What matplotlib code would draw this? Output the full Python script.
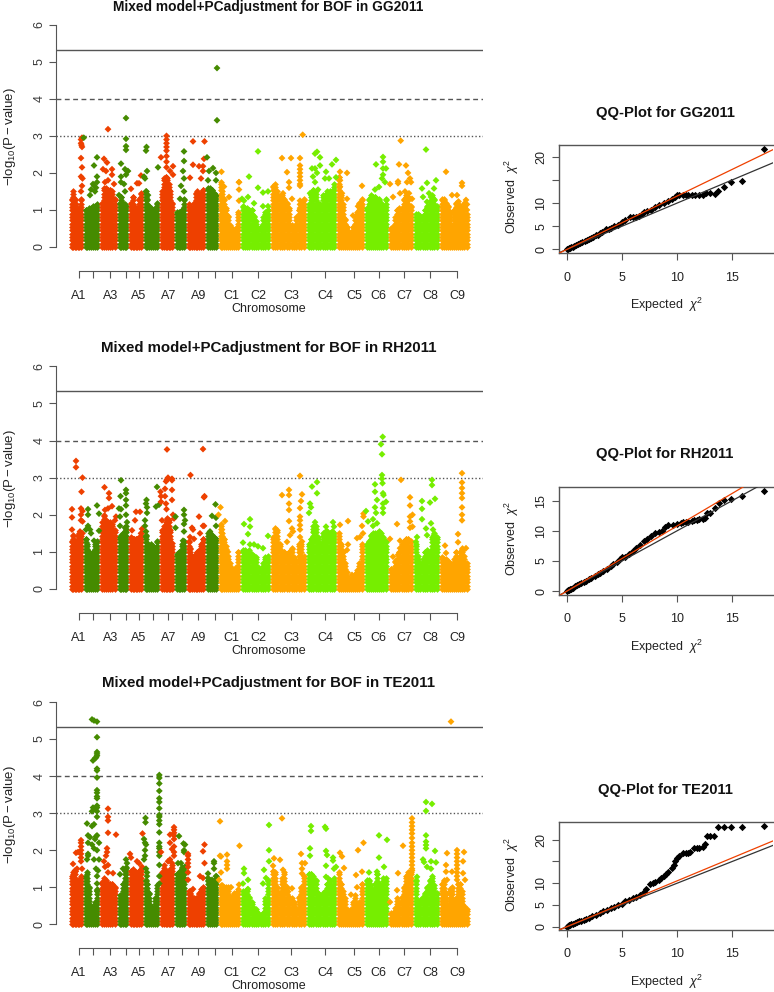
import numpy as np
import matplotlib
matplotlib.use("Agg")
import matplotlib.pyplot as plt

W, H = 774, 992
plt.rcParams['font.family'] = ['Liberation Sans', 'DejaVu Sans']
plt.rcParams['mathtext.fontset'] = 'custom'
plt.rcParams['mathtext.rm'] = 'Liberation Sans'
plt.rcParams['mathtext.it'] = 'Liberation Sans:italic'
plt.rcParams['mathtext.bf'] = 'Liberation Sans:bold'

chrom_names = ['A1', '', 'A3', '', 'A5', '', 'A7', '', 'A9', '', 'C1', 'C2', 'C3', 'C4', 'C5', 'C6', 'C7', 'C8', 'C9']
chrom_ticks = [78.5, 93.3, 110.3, 125.7, 138.7, 153.3, 168.3, 182, 198.3, 214.7, 231.7, 258, 291.3, 325.3, 354, 378.7, 404, 430.3, 457.3]
chrom_edges = [69, 83, 99.5, 117, 128.7, 143, 159.8, 174.5, 186, 205, 218, 240, 270, 306, 336.7, 364, 388, 413, 439, 469]
chrom_colors = ['#EE4000', '#458B00'] * 5 + ['#FFA500', '#76EE00'] * 4 + ['#FFA500']

gg_heights = [
    [1.3, 1.5, 1.3, 1.15, 1.0, 1.05, 1.3],
    [1.0, 0.95, 1.05, 1.05, 1.1, 1.1, 1.15],
    [1.2, 1.6, 1.6, 1.55, 1.55, 1.5, 1.3],
    [1.2, 1.35, 1.2, 1.15, 1.1],
    [1.2, 1.35, 1.1, 0.95, 1.05, 1.3, 1.45],
    [1.5, 1.3, 1.1, 1.05, 1.0, 1.05, 1.2],
    [1.5, 1.85, 1.9, 1.85, 1.7, 1.5, 1.2],
    [0.95, 0.95, 0.9, 1.0, 1.3],
    [1.15, 1.1, 1.0, 1.2, 1.45, 1.5, 1.4, 1.45, 1.55],
    [1.6, 1.6, 1.55, 1.45, 1.4],
    [1.75, 1.5, 1.3, 1.05, 0.85, 0.6, 0.5, 0.4, 0.5, 0.95],
    [1.1, 1.05, 1.05, 1.0, 1.0, 0.85, 0.7, 0.5, 0.55, 0.8, 0.95, 1.0],
    [1.65, 1.7, 1.5, 1.35, 1.4, 1.3, 1.2, 1.05, 0.6, 0.55, 0.8, 1.0, 1.2, 1.3],
    [1.15, 1.4, 1.55, 1.5, 1.2, 1.15, 1.4, 1.4, 1.5, 1.5, 1.5, 1.7],
    [1.9, 1.4, 1.15, 0.75, 0.55, 0.4, 0.35, 0.55, 0.8, 0.95, 1.2, 1.3],
    [1.05, 1.3, 1.4, 1.35, 1.35, 1.3, 1.3, 1.2, 1.1, 1.3],
    [0.5, 0.55, 0.8, 1.0, 1.05, 1.05, 1.3, 1.4, 1.35, 1.1],
    [0.9, 0.9, 0.85, 0.85, 1.0, 1.1, 1.25, 1.4, 1.3, 1.1],
    [1.3, 1.3, 1.2, 1.1, 0.95, 0.6, 1.0, 1.2, 1.25, 1.1, 1.0, 1.2, 0.9],
]
gg_peaks = [
    (81, 2.9), (82, 2.95), (83.8, 2.95), (81, 2.8), (81.5, 2.75), (82, 2.7), (81, 2.4), (82, 2.15), (81, 1.9), (82.5, 1.85), (82, 1.65), (81, 1.5),
    (97, 2.42), (94, 2.2), (97, 1.9), (93, 1.7), (97, 1.75), (94, 1.65), (96, 1.6), (91, 1.55), (95, 1.5), (90, 1.4),
    (104, 2.38), (107, 2.28), (103, 2.1), (106, 2.05), (112, 2.1), (108, 3.18), (112, 1.95), (108, 1.8), (105, 1.75), (114, 1.7),
    (126, 3.48), (126, 2.92), (126, 2.72), (126, 2.62), (121, 2.25), (125, 2.1), (127, 2.05), (128, 2.05), (121, 1.9), (126, 1.95), (121, 1.75), (124, 1.7), (119, 1.4), (125, 1.5),
    (141, 1.93), (137, 1.72), (139, 1.72), (131, 1.57),
    (146.5, 2.7), (146, 2.6), (147, 2.05), (145, 1.85), (144, 1.9), (146, 1.5), (148, 1.4), (158, 2.15),
    (161, 2.42), (166.5, 3.0), (166.5, 2.9), (166.5, 2.8), (166.5, 2.7), (166.5, 2.6), (166.5, 2.45), (166.5, 2.3), (166.5, 2.15), (170, 2.05), (173, 2.18), (173, 1.95),
    (184, 2.58), (184, 2.32), (183, 2.05), (184, 1.85), (181, 1.65), (180, 1.3), (184, 1.5),
    (193, 2.85), (204.5, 2.85), (204, 2.38), (193, 2.22), (199, 2.18), (203, 2.18), (203, 2.05), (190, 1.87), (201, 1.85),
    (207, 2.42), (217, 4.83), (217, 3.42), (209, 2.05), (213, 2.13), (216, 2.0), (208, 1.8), (216, 1.8),
    (221.5, 2.03), (224, 1.63), (229, 1.35), (239, 1.75), (239, 1.55), (239, 1.75), (239, 1.25),
    (249, 1.9), (258, 2.58), (258, 1.6), (248, 1.35), (254, 1.18), (263, 1.47), (268, 1.5), (263, 1.1), (268, 1.1), (242, 1.3), (244, 1.25),
    (282, 2.4), (291, 2.4), (287, 2.02), (300, 2.4), (300, 2.2), (300, 2.1), (300, 2.0), (300, 1.9), (300, 1.8), (300, 1.7), (300, 1.65), (300, 1.25), (300, 1.15), (300, 1.05), (289, 1.75), (289, 1.6), (283, 1.45), (292, 1.3), (302.7, 3.03),
    (315, 2.52), (317, 2.57), (320, 2.42), (320, 2.2), (312, 2.12), (315, 2.12), (317, 2.0), (313, 1.9), (315, 1.75), (318, 1.55), (310, 1.45), (326, 2.03), (325, 1.85), (329, 1.85), (332, 2.23), (336, 2.35), (336, 1.88),
    (340, 2.03), (347, 2.0), (340, 1.8), (340, 1.63), (342, 1.45), (347, 1.3), (362, 1.65), (353, 0.85), (361, 1.18), (358, 1.1),
    (376, 2.23), (383, 2.43), (383, 2.3), (383, 2.12), (383, 1.95), (382, 1.85), (385, 1.75), (379, 1.62), (375, 1.55), (386, 2.12),
    (400.7, 2.87), (399, 2.23), (406, 2.2), (408, 2.0), (390, 1.7), (398, 1.77), (398, 1.72), (410, 1.85), (407, 1.75), (411, 1.75), (393, 1.35), (400, 1.45), (405, 1.5), (409, 1.45), (412, 1.3),
    (426, 2.63), (436, 1.8), (427, 1.73), (422, 1.58), (434, 1.58), (429, 1.45), (423, 1.35), (431, 1.35), (427, 1.22),
    (446, 2.03), (462, 1.73), (462, 1.65), (466, 1.27), (457, 1.4), (452, 1.4), (467, 1.0), (467, 1.15),
]

rh_heights = [
    [1.3, 1.45, 1.3, 1.2, 1.45, 1.5, 1.5],
    [1.35, 1.2, 1.0, 0.95, 1.0, 1.2, 1.3],
    [1.8, 2.0, 1.85, 1.8, 1.8, 1.75, 1.6],
    [1.4, 1.45, 1.5, 1.55, 1.7],
    [1.4, 1.35, 1.35, 1.35, 1.35, 1.4, 1.5],
    [1.45, 1.25, 1.1, 1.2, 1.15, 1.1, 1.3],
    [1.6, 1.7, 1.8, 1.9, 1.85, 1.6, 1.25],
    [0.95, 1.0, 1.0, 1.2, 1.3],
    [1.3, 1.1, 0.9, 0.9, 0.95, 1.0, 1.05, 1.2, 1.35],
    [1.5, 1.5, 1.45, 1.4, 1.35],
    [1.75, 1.5, 1.35, 1.15, 0.9, 0.7, 0.55, 0.45, 0.6, 1.0],
    [1.05, 1.05, 1.0, 1.05, 0.95, 0.9, 0.85, 0.6, 0.5, 0.7, 0.85, 0.9],
    [1.4, 1.65, 1.6, 1.2, 1.0, 1.0, 0.95, 1.0, 1.1, 0.85, 0.75, 1.2, 1.2, 0.9],
    [1.2, 1.35, 1.7, 1.7, 1.4, 1.25, 1.5, 1.45, 1.55, 1.5, 1.55, 1.5],
    [1.5, 1.2, 1.0, 0.7, 0.45, 0.25, 0.3, 0.3, 0.4, 0.5, 0.7, 1.2],
    [1.2, 1.3, 1.45, 1.5, 1.5, 1.5, 1.55, 1.5, 1.4, 1.3],
    [0.55, 0.5, 0.75, 0.8, 1.0, 1.2, 1.3, 1.35, 1.35, 1.3],
    [1.2, 0.9, 0.7, 0.8, 1.0, 1.05, 1.0, 1.4, 1.5, 1.4],
    [0.85, 0.8, 0.8, 0.75, 0.7, 0.65, 0.8, 1.0, 0.7, 1.0, 1.1, 0.9, 0.7],
]
rh_peaks = [
    (76, 3.45), (76, 3.28), (82.5, 3.0), (72, 2.15), (72, 1.93), (81.5, 2.62), (81, 2.17), (82.5, 2.1), (81, 2.0), (81, 1.85), (82.5, 1.82), (72, 1.6), (80, 1.55), (82.5, 1.5),
    (86, 1.6), (88, 2.15), (88, 2.0), (97, 2.25), (99, 2.03), (88, 1.7), (90, 1.6), (91, 1.5), (99, 1.57), (94, 1.3),
    (104.5, 2.74), (109, 2.58), (109, 2.45), (112, 2.23), (105, 2.13), (108, 2.17), (116, 1.95), (115, 1.85),
    (121, 2.93), (120.5, 2.5), (126, 2.67), (126, 2.58), (126, 2.4), (126, 2.25), (119, 2.17), (121, 2.15), (120, 1.95), (126, 2.0), (120, 1.7), (127, 1.8), (125, 1.65),
    (136, 2.08), (140, 2.08), (132, 1.58), (142, 1.62), (141, 1.5), (135, 1.85),
    (146.5, 2.4), (146, 2.3), (147, 2.2), (147, 2.05), (145, 1.85), (145, 1.7), (146, 1.55), (146, 1.4), (157, 2.75), (156, 2.22), (159, 2.27),
    (167, 3.76), (160.5, 2.62), (161, 2.5), (161, 2.35), (165, 2.5), (165, 2.7), (166, 2.9), (167, 2.95), (168, 3.0), (172, 2.97), (172, 2.93), (172, 2.67), (172, 2.4), (166.5, 2.15), (166, 2.3), (173, 2.0), (174, 1.9), (162, 1.85),
    (184, 2.13), (184, 2.0), (185, 1.85), (184, 1.75), (184, 1.55), (175.5, 1.95), (175.5, 1.65), (183, 1.3),
    (190.5, 3.07), (203, 3.77), (204.5, 2.5), (204, 2.47), (199, 1.95), (192, 1.65), (193, 1.6), (203, 1.7), (200, 1.5), (204, 1.7), (194, 1.35), (190, 1.4),
    (215.5, 2.28), (212, 1.97), (216, 1.92), (216, 1.7), (210, 1.55),
    (220.5, 2.2), (218.5, 2.0), (225, 1.83), (222, 1.6), (228, 1.0),
    (244, 1.75), (250, 1.88), (250, 1.68), (248, 1.48), (243, 1.25), (250, 1.2), (254, 1.2), (258, 1.15), (263, 1.1), (268, 1.43),
    (282, 2.53), (289, 2.67), (289, 2.53), (289, 2.3), (289, 2.13), (289, 1.83), (300, 3.05), (302, 2.55), (301, 2.37), (300, 2.18), (300, 1.95), (300, 1.85), (300, 1.72), (300, 1.6), (292, 1.63), (293, 1.55), (290, 1.45), (287, 1.27), (300, 1.4), (302, 1.28),
    (317, 2.88), (312, 2.76), (317, 2.58), (310, 2.3), (311, 2.2), (309, 2.05), (315, 1.8), (315, 1.7), (314, 1.55), (326, 1.68), (326, 1.55), (333, 1.8), (334, 1.68), (329, 1.45),
    (348, 1.83), (340, 1.73), (348, 1.2), (347, 1.05), (362, 1.7), (363.5, 1.95), (363.5, 2.03), (357, 1.37), (360, 1.4), (363, 1.5), (352, 0.38),
    (366, 2.1), (382.7, 4.1), (381, 3.9), (382, 3.63), (382, 3.07), (382, 2.97), (382.5, 2.85), (375, 2.82), (375, 2.62), (377, 2.4), (383, 2.58), (383.5, 2.53), (383, 2.3), (386, 2.35), (383, 2.18), (383, 2.05), (375, 2.2), (376, 2.05), (373, 1.88), (368, 1.82), (377, 1.77), (373, 1.7),
    (401, 2.94), (410, 2.47), (410, 2.25), (412.5, 2.0), (397, 1.75), (410, 1.95), (410, 1.82), (410, 1.65), (412.5, 1.68), (390, 1.35), (400, 1.3), (400, 1.1), (393, 0.87), (398, 0.92),
    (432, 2.94), (432, 2.8), (422, 2.37), (430, 2.33), (435, 2.43), (422, 2.16), (422, 1.88), (431, 1.77), (426, 1.63), (427, 1.45), (433, 1.6), (417, 1.4), (416, 1.27), (434, 1.45),
    (462, 3.12), (462, 2.87), (462, 2.72), (462, 2.58), (462, 2.45), (462, 2.2), (462, 2.0), (462, 1.85), (458, 1.48), (458, 1.26), (445, 1.17), (446, 0.97), (466, 1.1), (463, 1.03),
]

te_heights = [
    [1.3, 1.4, 1.45, 1.1, 1.2, 1.2, 1.3],
    [1.3, 1.4, 1.0, 0.5, 0.45, 0.6, 0.95],
    [1.15, 1.25, 1.2, 1.1, 1.1, 1.1, 1.0],
    [0.8, 0.8, 1.1, 1.5, 1.55],
    [1.45, 1.5, 1.45, 1.4, 1.35, 1.45, 1.5],
    [1.2, 1.1, 0.85, 0.5, 0.4, 0.7, 1.05],
    [1.4, 1.6, 1.45, 1.35, 1.45, 1.5, 1.6],
    [1.35, 1.3, 1.45, 1.55, 1.55],
    [0.9, 0.85, 0.75, 0.7, 0.7, 0.7, 0.85, 0.95, 1.0],
    [1.2, 1.2, 1.1, 1.15, 1.3],
    [1.05, 1.05, 1.0, 1.0, 1.0, 0.75, 0.75, 0.85, 0.85, 0.95],
    [0.9, 0.85, 0.95, 0.75, 0.6, 0.45, 0.4, 0.3, 0.25, 0.3, 0.7, 1.2],
    [1.45, 1.4, 1.0, 0.85, 1.25, 1.4, 1.0, 0.75, 0.7, 0.6, 0.45, 0.75, 1.0, 1.3],
    [1.35, 1.35, 1.3, 1.2, 0.85, 0.8, 0.85, 0.9, 1.1, 1.2, 1.0, 1.25],
    [1.4, 1.1, 0.9, 0.7, 0.4, 0.3, 0.4, 0.6, 0.8, 0.5, 0.6, 1.1],
    [1.2, 1.2, 1.05, 0.9, 1.1, 1.35, 1.1, 1.05, 1.25, 1.25],
    [0.3, 0.3, 0.45, 0.7, 0.6, 0.75, 1.0, 1.3, 1.4, 1.4],
    [1.2, 0.6, 0.65, 0.75, 0.85, 1.0, 1.2, 1.3, 1.05, 0.85],
    [1.1, 1.2, 0.85, 0.5, 0.95, 1.0, 0.6, 0.7, 1.1, 1.1, 0.9, 0.5, 0.4],
]
te_peaks = [
    (73, 1.63), (76, 1.93), (78, 1.95), (81, 2.27), (81, 2.2), (81, 2.1), (81, 2.0), (81, 1.9), (81, 1.8), (81, 1.7), (75, 1.45), (77, 1.5), (82, 1.5),
    (92, 5.53), (94, 5.5), (97, 5.47), (97, 5.05), (97, 4.65), (97, 4.6), (97, 4.55), (96, 4.5), (95, 4.48), (93, 4.42), (97, 4.2), (97, 4.15), (97, 3.96), (97, 3.62), (97, 3.55), (97, 3.45), (97, 3.4), (97, 3.2), (97, 3.15), (93, 3.15), (92, 3.05), (97, 3.05), (95, 3.1), (97, 2.9), (94, 2.7), (92, 2.65), (87, 2.72), (88, 2.4), (90, 2.35), (96, 2.37), (97, 2.4), (95, 2.3), (99, 2.2), (97, 2.0), (88, 2.2), (92, 2.15), (94, 2.05), (88, 1.9), (88, 1.85), (87, 1.75), (94, 1.75), (99, 1.75), (96, 1.5), (98, 1.45), (97, 1.3), (97, 1.1), (97, 0.9),
    (108, 3.12), (108, 2.9), (108, 2.8), (108, 2.47), (116, 2.42), (107, 2.05), (107, 1.95), (106, 1.85), (104, 1.7), (108, 1.6), (105, 1.55), (113, 1.38), (108, 1.4),
    (126, 1.75), (123, 1.5), (120, 1.35), (127, 1.65),
    (130, 1.9), (131, 1.8), (137, 1.7), (139, 1.65), (142, 1.55), (142.5, 2.45),
    (145.5, 2.87), (145.5, 2.75), (144, 2.3), (145, 2.2), (146, 2.15), (145, 2.0), (145, 1.85), (144, 1.75), (146, 1.5), (147, 1.4), (147, 1.3),
    (159.3, 4.03), (159.3, 3.95), (159.3, 3.8), (159.3, 3.6), (159.3, 3.4), (159.3, 3.3), (159.3, 3.13), (159.3, 2.95), (159.3, 2.9), (159.3, 2.8), (159.3, 2.7), (159.3, 2.48), (159.3, 2.2), (159.3, 2.1), (159.3, 2.05), (159.3, 1.95), (159.3, 1.85), (159.3, 1.6), (159.3, 1.3), (159.3, 1.1),
    (161, 1.95), (170, 2.42), (174, 2.62), (174, 2.55), (174, 2.47), (174, 2.4), (174, 2.3), (170, 2.2), (174, 2.1), (172, 2.03), (174, 1.95), (174, 1.85), (170, 1.75), (168, 1.7), (172, 1.65),
    (179, 2.38), (183.5, 2.18), (185, 2.15), (184, 2.0), (184, 1.95), (178, 1.65), (181, 1.65), (185, 1.55),
    (188, 1.9), (188, 1.85), (188, 1.75), (188, 1.65), (188, 1.55), (188, 1.4), (188, 1.2), (193, 0.95), (191, 0.9), (200, 1.3), (203, 1.25), (204.5, 2.15), (204.5, 1.65), (203, 1.97),
    (208, 1.37), (208, 1.25), (214, 1.7), (214, 1.65), (214, 1.5), (216, 1.3), (212, 1.2),
    (220, 2.78), (220, 1.85), (221, 1.83), (227, 1.88), (227, 1.7), (227, 1.6), (227, 1.5), (221, 1.4), (219, 1.2), (239.5, 2.12), (239, 1.07), (231, 1.0),
    (244, 1.5), (244, 1.38), (248, 1.2), (243, 1.1), (248, 0.95), (269, 2.68), (269, 2.0), (269, 1.7), (264, 1.47), (266, 1.25), (263, 1.1),
    (282, 2.86), (274, 1.78), (280, 1.74), (273, 1.58), (283, 1.47), (292, 0.97), (288, 0.88), (301, 1.9), (305, 1.65), (302, 1.65), (302, 1.5), (302, 1.37),
    (311, 2.65), (311, 2.52), (310, 2.05), (310, 1.85), (325, 2.63), (326, 2.58), (326, 1.98), (327, 1.87), (333, 1.8), (333, 1.72), (326, 1.58), (336, 1.55), (326, 1.28), (328, 1.24), (334, 1.5),
    (340, 1.93), (342, 1.83), (344, 1.52), (358, 2.0), (363.5, 2.2), (356, 1.33), (362, 1.42), (357, 1.0), (351, 0.8),
    (379, 2.4), (387, 2.28), (379, 1.8), (369, 1.4), (384, 1.55), (377, 1.42),
    (403, 2.12), (398, 1.38), (397, 0.92), (390, 0.6), (412, 2.86), (412, 2.75), (412, 2.65), (412, 2.55), (412, 2.45), (412, 2.33), (412, 2.2), (412, 2.1), (412, 2.0), (412, 1.9), (412, 1.8), (412, 1.7), (412, 1.6), (412, 1.5), (412, 1.45),
    (426, 3.3), (432, 3.25), (426, 3.06), (426, 2.4), (426, 2.23), (426, 2.14), (426, 2.05), (435, 1.98), (423, 1.75), (431, 1.7), (436, 1.67), (424, 1.68), (427, 1.55), (431, 1.5), (417, 1.28),
    (451, 5.47), (447, 1.92), (446, 1.6), (457, 2.0), (457, 1.9), (457, 1.8), (457, 1.7), (457, 1.6), (457, 1.5), (457, 1.4), (457, 1.3), (457, 1.2), (464, 1.95), (452, 1.42), (446, 1.42), (463, 1.7), (463, 1.38), (447, 1.2), (465, 1.2),
]

qq_gg_x = [0, .1, .2, .3, .4, .5, .6, .8, 1, 1.2, 1.4, 1.6, 1.8, 2, 2.2, 2.4, 2.6, 2.8, 3, 3.2, 3.5, 3.8, 4, 4.3, 4.6, 5, 5.3, 5.7, 6, 6.3, 6.5, 6.8, 7, 7.3, 7.6, 8, 8.3, 8.8, 9.2, 9.5, 9.8, 10, 10.2, 10.5, 10.8, 11, 11.3, 11.6, 12, 12.3, 12.6, 13, 13.4, 13.7, 14.2, 14.85, 15.85, 17.9]
qq_gg_y = [0, .1, .2, .3, .45, .55, .7, .9, 1.15, 1.4, 1.6, 1.85, 2.05, 2.3, 2.55, 2.75, 3.0, 3.2, 3.45, 3.7, 4.3, 4.4, 4.6, 5.0, 5.3, 5.8, 6.3, 7.0, 7.0, 7.0, 7.1, 7.7, 8.0, 8.2, 8.6, 9.2, 9.5, 9.9, 10.4, 10.8, 11.2, 11.7, 11.7, 11.7, 11.7, 11.7, 11.7, 11.7, 11.7, 11.8, 12.1, 12.1, 12.0, 12.7, 13.4, 14.6, 14.8, 21.6]
qq_rh_x = [0, .1, .2, .3, .4, .5, .7, .9, 1.1, 1.3, 1.5, 1.7, 2, 2.2, 2.5, 2.8, 3, 3.3, 3.6, 4, 4.2, 4.5, 4.8, 5, 5.3, 5.6, 6, 6.3, 6.6, 7, 7.3, 7.6, 8, 8.3, 8.6, 8.9, 9.2, 9.6, 10, 10.3, 10.5, 10.8, 11, 11.3, 11.5, 11.8, 12, 12.3, 12.5, 12.7, 13, 13.4, 13.75, 14.2, 14.85, 15.85, 17.9]
qq_rh_y = [0, .1, .2, .3, .4, .5, .75, .95, 1.15, 1.3, 1.5, 1.7, 2.0, 2.2, 2.5, 2.8, 3.0, 3.3, 3.6, 4.1, 4.4, 4.8, 5.3, 5.6, 5.7, 6.1, 6.7, 7.1, 7.6, 8.3, 8.6, 9.1, 9.6, 9.8, 9.9, 10.6, 11.0, 11.0, 11.1, 11.3, 11.4, 11.4, 11.5, 11.6, 11.8, 11.8, 12.0, 12.0, 12.1, 12.9, 13.0, 13.7, 14.6, 15.1, 15.2, 15.8, 16.6]
qq_te_x = [0, .1, .2, .3, .4, .5, .7, .9, 1.1, 1.3, 1.5, 1.7, 2, 2.3, 2.6, 3, 3.3, 3.6, 4, 4.3, 4.6, 5, 5.3, 5.6, 6, 6.3, 6.6, 7, 7.2, 7.5, 7.8, 8, 8.3, 8.5, 8.8, 9, 9.2, 9.5, 9.7, 9.8, 10, 10.2, 10.5, 10.8, 11, 11.2, 11.5, 11.8, 12, 12.3, 12.5, 12.7, 13, 13.3, 13.7, 14.2, 14.85, 15.85, 17.9]
qq_te_y = [0, .15, .3, .4, .5, .6, .8, 1.0, 1.2, 1.4, 1.6, 1.8, 2.1, 2.45, 2.75, 3.2, 3.5, 3.9, 4.3, 4.6, 5.0, 5.3, 5.8, 6.1, 6.5, 6.9, 7.3, 8.0, 8.6, 9.8, 10.0, 10.2, 10.8, 11.3, 11.6, 12.1, 12.5, 13.6, 14.2, 15.0, 15.9, 16.2, 16.9, 17.0, 17.0, 17.1, 18.0, 18.0, 18.0, 18.3, 18.9, 20.8, 20.8, 20.8, 22.9, 22.9, 22.9, 22.9, 23.1]
qq_slopes = [1.152, 1.08, 1.055]
qq_yticks_gg = [0, 5, 10, 15, 20]
qq_ylabels_gg = ['0', '5', '10', '', '20']
qq_yticks_rh = [0, 5, 10, 15]
qq_ylabels_rh = ['0', '5', '10', '15']

titles = ['Mixed model+PCadjustment for BOF in GG2011',
          'Mixed model+PCadjustment for BOF in RH2011',
          'Mixed model+PCadjustment for BOF in TE2011']
qq_titles = ['QQ-Plot for GG2011', 'QQ-Plot for RH2011', 'QQ-Plot for TE2011']

INK = '#3a3a3a'
LINE = '#555555'
fig = plt.figure(figsize=(W / 100, H / 100), dpi=100)


def axes_px(left, top, right, bottom):
    return fig.add_axes([left / W, 1 - bottom / H, (right - left) / W, (bottom - top) / H])


def text_px(x, y, s, **kw):
    kw.setdefault('color', '#222222')
    kw.setdefault('ha', 'center')
    kw.setdefault('va', 'center')
    fig.text(x / W, 1 - y / H, s, **kw)


def manhattan(heights, peaks, y0, y6, axis_y, title, title_y, title_size):
    unit = (y0 - y6) / 6
    ax = axes_px(55.7, y6, 483, axis_y)
    ax.set_xlim(55.7, 483)
    ax.set_ylim(-(axis_y - y0) / unit, 6)
    ax.patch.set_alpha(0)
    for s in ('top', 'right'):
        ax.spines[s].set_visible(False)
    for s in ('left', 'bottom'):
        ax.spines[s].set_color(LINE)
        ax.spines[s].set_linewidth(0.8)
    ax.spines['left'].set_bounds(0, 6)
    ax.spines['bottom'].set_bounds(chrom_ticks[0], chrom_ticks[-1])
    for i, h in enumerate(heights):
        lo, hi = chrom_edges[i], chrom_edges[i + 1]
        xs = np.linspace(lo + 2.5, hi - 2.5, len(h))
        # each sampled column of the solid band is a stack of point markers
        cx, cy = [], []
        for x, top in zip(xs, h):
            lev = np.arange(0, top, 0.09)
            cx.extend([x] * len(lev) + [x])
            cy.extend(list(lev) + [top])
        ax.scatter(cx, cy, marker='D', s=12, color=chrom_colors[i], linewidths=0, zorder=2 + i * 0.01)
    px = np.array([p[0] for p in peaks])
    py = np.array([p[1] for p in peaks])
    idx = np.clip(np.searchsorted(chrom_edges, px, side='right') - 1, 0, 18)
    ax.scatter(px, py, marker='D', s=12, c=[chrom_colors[i] for i in idx], linewidths=0, zorder=3, clip_on=False)
    ax.axhline(-np.log10(4.7e-6), color=LINE, lw=1.0, zorder=1)
    ax.axhline(4, color=LINE, lw=1.0, ls=(0, (3.5, 2.5)), zorder=1)
    ax.axhline(3, color=LINE, lw=1.0, ls=(0, (1, 1.6)), zorder=1)
    ax.set_yticks(range(7))
    ax.set_xticks(chrom_ticks)
    ax.set_xticklabels(chrom_names)
    ax.tick_params(axis='y', length=5.3, width=0.8, color=LINE, pad=2, labelsize=9, labelcolor=INK, labelrotation=90)
    ax.tick_params(axis='x', length=5.3, width=0.8, color=LINE, pad=8.5, labelsize=9, labelcolor='#222222')
    for t in ax.get_yticklabels():
        t.set_va('center')
    text_px(268.5, title_y, title, fontweight='bold', fontsize=title_size, color='#111111')
    text_px(269, axis_y + 38, 'Chromosome', fontsize=9)
    text_px(10, (y0 + y6) / 2 + 1, r'$-\mathrm{log}_{10}(\mathrm{P}-\mathrm{value})$', fontsize=9.5, rotation=90)


def qq(x, y, slope, top, bottom, ymin, ymax, yticks, ylabels, title, title_y):
    ax = axes_px(559, top, 773, bottom)
    ax.set_xlim(-0.73, 18.69)
    ax.set_ylim(ymin, ymax)
    for s in ax.spines.values():
        s.set_color(LINE)
        s.set_linewidth(1.0)
    ax.spines['right'].set_visible(False)
    ax.scatter(x, y, marker='D', s=14, color='black', linewidths=0, zorder=2)
    grid = np.array([-1, 20])
    ax.plot(grid, grid, color='#333333', lw=0.9, zorder=3)
    ax.plot(grid, slope * grid, color='#EE4000', lw=0.9, zorder=4)
    ax.set_xticks([0, 5, 10, 15])
    ax.set_yticks(yticks)
    ax.set_yticklabels(ylabels)
    ax.tick_params(axis='x', length=5.3, width=0.8, color=LINE, pad=8, labelsize=9, labelcolor='#222222')
    ax.tick_params(axis='y', length=5.3, width=0.8, color=LINE, pad=3, labelsize=9, labelcolor='#222222', labelrotation=90)
    for t in ax.get_yticklabels():
        t.set_va('center')
    text_px(665, title_y, title, fontweight='bold', fontsize=10.7, color='#111111')
    text_px(666, bottom + 52, r'Expected  $\chi^2$', fontsize=9)
    text_px(512, (top + bottom) / 2 - 2, r'Observed  $\chi^2$', fontsize=9, rotation=90)


manhattan(gg_heights, gg_peaks, 247, 24.7, 271, titles[0], 6.5, 9.9)
manhattan(rh_heights, rh_peaks, 589, 366.3, 613.3, titles[1], 348, 10.8)
manhattan(te_heights, te_peaks, 924.3, 702, 948.3, titles[2], 683, 10.8)
qq(qq_gg_x, qq_gg_y, qq_slopes[0], 144.7, 253.3, -0.86, 22.6, qq_yticks_gg, qq_ylabels_gg, qq_titles[0], 113)
qq(qq_rh_x, qq_rh_y, qq_slopes[1], 486.7, 595, -0.66, 17.3, qq_yticks_rh, qq_ylabels_rh, qq_titles[1], 454)
qq(qq_te_x, qq_te_y, qq_slopes[2], 822.3, 930, -0.77, 24, qq_yticks_gg, qq_ylabels_gg, qq_titles[2], 790)

fig.savefig('out.png', dpi=100)
